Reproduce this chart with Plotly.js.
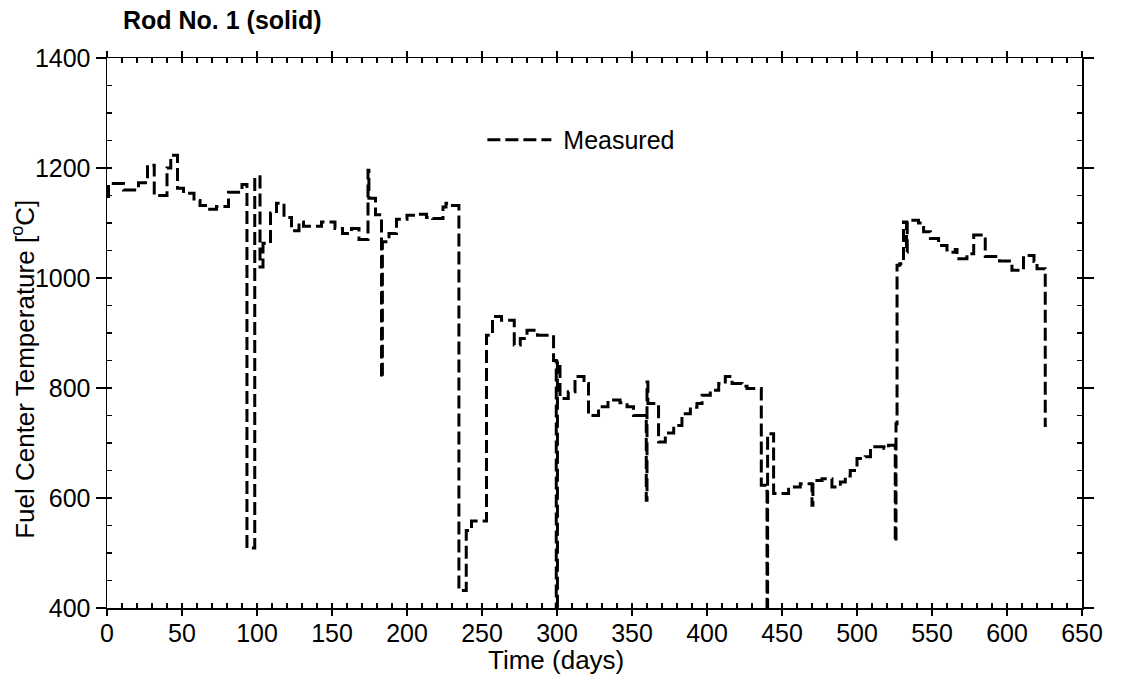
<!DOCTYPE html>
<html>
<head>
<meta charset="utf-8">
<script src="https://cdn.plot.ly/plotly-3.0.1.min.js"></script>
<style>html,body{margin:0;padding:0;background:#fff;}#chart{width:1129px;height:677px;}</style>
</head>
<body>
<div id="chart"></div>
<script>
// Step change points: temperature level that starts at each day
const days = [0,1,11,21,27,31.5,40,42.5,47,51,58,62,67,73,81,90,93.3,98.5,102,104,109,113,118,123,128,131,143,152,157,163,168,174,174.6,179,183,183.6,188,193,200,207,213,217,224,226,229,234.6,239.5,243,253,257,263,271.5,275.5,280,287,297.7,299.5,300.3,302,307.5,312,318,321,327.7,334,342,346.7,351,359.5,360,360.6,367.7,372.2,377.8,383.3,388.9,393.3,396.7,402.2,407.8,412.2,416.7,423.3,426.7,436.2,440,440.4,444.4,454.4,462.2,470,470.6,476.7,483.3,488.9,492.2,495.5,500,505.5,509,518,521,525.5,526,526.7,528.5,531,533,533.5,541,544.4,548.9,554.4,560,565.5,566.7,573.3,577.8,585.5,595,603.3,611,618,620,625.5];
const temps = [1148,1172,1160,1173,1205,1150,1200,1223,1163,1154,1141,1132,1125,1130,1156,1170,509,1184,1020,1063,1118,1136,1110,1086,1102,1094,1102,1090,1081,1090,1070,1196,1145,1115,818,1066,1081,1107,1114,1116,1110,1108,1129,1136,1132,432,541,558,896,930,923,878,890,905,896,850,390,848,781,793,821,808,750,766,778,773,766,750,596,811,772,702,718,732,753,765,772,787,796,808,821,808,803,799,623,390,717,608,620,626,587,632,635,620,629,640,650,672,675,693,690,696,520,735,1023,1026,1102,1047,1105,1100,1084,1072,1059,1047,1052,1035,1044,1078,1039,1031,1014,1041,1030,1017,729];

const seriesName = '\u00a0Measured';
const chartTitle = 'Rod No. 1 (solid)';
const xTitle = 'Time (days)';
const yTitle = 'Fuel Center Temperature [<sup>o</sup>C]';
const xRange = [0, 650];
const yRange = [400, 1400];

const FONT = 'Liberation Sans, Arial, Helvetica, sans-serif';

const trace = {
  x: days, y: temps, type: 'scatter', mode: 'lines', name: seriesName,
  line: {shape: 'hv', color: '#000', width: 3, dash: '13px,5px'},
  hoverinfo: 'skip'
};

const baseAxis = {
  showgrid: false, zeroline: false, color: '#000',
  linecolor: '#000', linewidth: 1.5, mirror: true, showline: true,
  tickcolor: '#000', tickwidth: 1.5, ticks: 'outside'
};

const layout = {
  width: 1129, height: 677,
  margin: {l: 107, r: 47, t: 58, b: 69, pad: 0},
  paper_bgcolor: '#fff', plot_bgcolor: '#fff',
  font: {family: FONT, color: '#000', size: 25},
  showlegend: true,
  legend: {x: 0.385, y: 0.851, xanchor: 'left', yanchor: 'middle',
    bgcolor: 'rgba(0,0,0,0)', font: {size: 25, family: FONT}, itemwidth: 64},
  title: {text: '<b>' + chartTitle + '</b>', x: 123/1129, xanchor: 'left', xref: 'container',
    y: 1 - 20/677, yanchor: 'middle', yref: 'container', font: {size: 25, family: FONT, color: '#000'}},
  xaxis: Object.assign({}, baseAxis, {
    range: xRange, dtick: 50, tick0: 0, ticklen: 6, mirror: 'ticks',
    ticklabelstandoff: -4,
    tickfont: {size: 25, family: FONT}
  }),
  yaxis: Object.assign({}, baseAxis, {
    range: yRange, dtick: 200, tick0: 400, ticklen: 10, mirror: 'ticks',
    tickfont: {size: 25, family: FONT}
  }),
  xaxis2: {
    overlaying: 'x', anchor: 'y', range: xRange, dtick: 50, tick0: 0,
    ticks: 'inside', ticklen: 5, tickwidth: 1.5, tickcolor: '#000', mirror: 'ticks',
    showticklabels: false, showgrid: false, zeroline: false, showline: false,
    minor: {ticks: 'inside', ticklen: 5, dtick: 10, tick0: 0, tickwidth: 1.5, tickcolor: '#000', showgrid: false}
  },
  yaxis2: {
    overlaying: 'y', anchor: 'x', range: yRange, dtick: 200, tick0: 400,
    ticks: 'inside', ticklen: 5, tickwidth: 1.5, tickcolor: '#000', mirror: 'ticks',
    showticklabels: false, showgrid: false, zeroline: false, showline: false,
    minor: {ticks: 'inside', ticklen: 5, dtick: 50, tick0: 400, tickwidth: 1.5, tickcolor: '#000', showgrid: false}
  },
  annotations: [
    {text: yTitle, xref: 'paper', yref: 'paper', x: (24 - 107) / 975, y: 0.433,
     xanchor: 'center', yanchor: 'middle', textangle: -90, showarrow: false,
     font: {size: 26, family: FONT, color: '#000'}},
    {text: xTitle, xref: 'paper', yref: 'paper', x: (556 - 107) / 975, y: -52 / 550,
     xanchor: 'center', yanchor: 'middle', showarrow: false,
     font: {size: 26, family: FONT, color: '#000'}}
  ]
};

// empty helper trace so the overlaid tick-only axes (inner half of major ticks + minor ticks) are drawn
const helper = {x: [], y: [], xaxis: 'x2', yaxis: 'y2', type: 'scatter', mode: 'lines', showlegend: false, hoverinfo: 'skip'};

Plotly.newPlot('chart', [trace, helper], layout, {staticPlot: true, displayModeBar: false});
</script>
</body>
</html>
